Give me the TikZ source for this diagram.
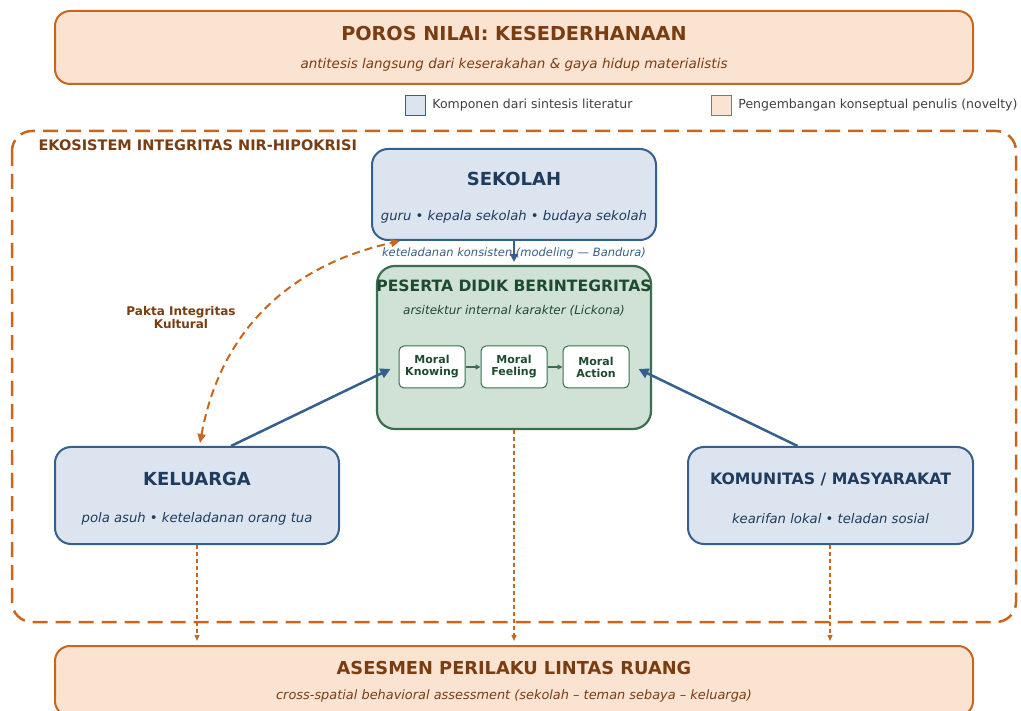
\documentclass[tikz,border=0pt]{standalone}
\usepackage{fontspec}
\setmainfont{DejaVu Sans}
\usepackage{xcolor}
\usetikzlibrary{calc,positioning,arrows.meta}
\definecolor{oranye}{HTML}{C8661E}
\definecolor{peach}{HTML}{FBE3D2}
\definecolor{coklat}{HTML}{7A3D12}
\definecolor{biru}{HTML}{355F8C}
\definecolor{birumuda}{HTML}{DCE5EF}
\definecolor{birutua}{HTML}{1F3B5E}
\definecolor{hijau}{HTML}{3A6E4F}
\definecolor{hijaumuda}{HTML}{D0E1D6}
\definecolor{hijautua}{HTML}{1E4A30}
\tikzset{
  novelbox/.style={draw=oranye, fill=peach, line width=2pt, rounded corners=15pt},
  litbox/.style={draw=biru, fill=birumuda, line width=2pt, rounded corners=16pt},
  pdbox/.style={draw=hijau, fill=hijaumuda, line width=2.2pt, rounded corners=18pt},
  moralbox/.style={draw=hijau, fill=white, line width=1pt, rounded corners=5pt,
    minimum width=66pt, minimum height=42pt, align=center, inner sep=0pt,
    font=\fontsize{11}{12}\selectfont\bfseries, text=hijautua},
  judul/.style={font=\fontsize{18}{20}\selectfont\bfseries},
  sub/.style={font=\fontsize{13.2}{15}\selectfont\itshape},
  panahbiru/.style={draw=biru, line width=2.5pt, -{Triangle[length=10pt,width=10pt]}},
  panahoranye/.style={draw=oranye, line width=1.3pt, dash pattern=on 4pt off 3pt,
    -{Triangle[length=6pt,width=5pt]}},
}

\begin{document}
\begin{tikzpicture}[x=1pt,y=-1pt]
\useasboundingbox (0,0) rectangle (1021,711);
% poros nilai
\node[novelbox, minimum width=918pt, minimum height=73pt] (poros) at (514,47.5) {};
\node[judul, text=coklat, font=\fontsize{19.2}{21}\selectfont\bfseries] at (514,34) {POROS NILAI: KESEDERHANAAN};
\node[sub, text=coklat, font=\fontsize{13.5}{15}\selectfont\itshape] at (514,64.5) {antitesis langsung dari keserakahan \& gaya hidup materialistis};
% legenda
\node[draw=biru, fill=birumuda, line width=1.5pt, minimum size=20pt, inner sep=0pt] (lg1) at (415.5,105.5) {};
\node[right=6pt of lg1, font=\fontsize{12.5}{14}\selectfont, text=black!75, inner sep=0pt] {Komponen dari sintesis literatur};
\node[draw=oranye, fill=peach, line width=1.5pt, minimum size=20pt, inner sep=0pt] (lg2) at (721.5,105.5) {};
\node[right=6pt of lg2, font=\fontsize{12.5}{14}\selectfont, text=black!75, inner sep=0pt] {Pengembangan konseptual penulis (novelty)};
% ekosistem
\draw[oranye, line width=2.5pt, dash pattern=on 15pt off 8pt, rounded corners=20pt] (12,131) rectangle (1016,622);
\node[anchor=west, font=\fontsize{14.5}{16}\selectfont\bfseries, text=coklat] (eko) at (35,145) {EKOSISTEM INTEGRITAS NIR-HIPOKRISI};
% sekolah
\node[litbox, minimum width=284pt, minimum height=91pt] (sek) at (514,194.5) {};
\node[judul, text=birutua] at (514,179) {SEKOLAH};
\node[sub, text=birutua] at (514,216.5) {guru • kepala sekolah • budaya sekolah};
% peserta didik
\node[pdbox, minimum width=274pt, minimum height=163pt] (pes) at (514,347.5) {};
\node[font=\fontsize{15.6}{17}\selectfont\bfseries, text=hijautua] at (514,286) {PESERTA DIDIK BERINTEGRITAS};
\node[font=\fontsize{12}{14}\selectfont\itshape, text=hijautua] at (514,311) {arsitektur internal karakter (Lickona)};
\node[moralbox] (mk) at (432,367) {Moral\\Knowing};
\node[moralbox] (mf) at (514,367) {Moral\\Feeling};
\node[moralbox] (ma) at (596,367) {Moral\\Action};
\draw[hijau, line width=1.2pt, -{Triangle[length=5pt,width=5pt]}] (mk) -- (mf);
\draw[hijau, line width=1.2pt, -{Triangle[length=5pt,width=5pt]}] (mf) -- (ma);
% keteladanan
\node[font=\fontsize{11.5}{13}\selectfont\itshape, text=biru] (ket) at (514,253) {keteladanan konsisten (modeling — Bandura)};
\draw[draw=biru, line width=2pt, -{Triangle[length=8pt,width=8pt]}] (sek.south) -- ($(pes.north)+(0,-3)$);
% keluarga & komunitas
\node[litbox, minimum width=284pt, minimum height=97pt] (kel) at (197,495.5) {};
\node[judul, text=birutua] at (197,479) {KELUARGA};
\node[sub, text=birutua] at (197,518.5) {pola asuh • keteladanan orang tua};
\node[litbox, minimum width=285pt, minimum height=97pt] (kom) at (830.5,495.5) {};
\node[font=\fontsize{15.7}{17}\selectfont\bfseries, text=birutua] at (830.5,479) {KOMUNITAS / MASYARAKAT};
\node[sub, text=birutua] at (830.5,518.5) {kearifan lokal • teladan sosial};
\draw[panahbiru] ($(kel.north)+(34,0)$) -- ($(mk.west)+(-8,2)$);
\draw[panahbiru] ($(kom.north)+(-33,0)$) -- ($(ma.east)+(9,2)$);
% pakta integritas
\coordinate (pk1) at (200,443);
\coordinate (pk2) at (400,241);
\draw[oranye, line width=2pt, dash pattern=on 8pt off 5pt,
  {Triangle[length=9pt,width=8pt]}-{Triangle[length=9pt,width=8pt]}]
  (pk1) .. controls (220,333) and (287,266) .. (pk2);
\node[align=center, font=\fontsize{12}{13}\selectfont\bfseries, text=coklat] (pakta) at (181,318) {Pakta Integritas\\Kultural};
% asesmen
\node[novelbox, minimum width=918pt, minimum height=70pt] (asm) at (514,681) {};
\node[judul, text=coklat, font=\fontsize{17.8}{20}\selectfont\bfseries] at (514,668) {ASESMEN PERILAKU LINTAS RUANG};
\node[font=\fontsize{12.9}{14}\selectfont\itshape, text=coklat] at (514,696) {cross-spatial behavioral assessment (sekolah – teman sebaya – keluarga)};
\draw[panahoranye, shorten >=4pt] (kel.south) -- (kel.south |- asm.north);
\draw[panahoranye, shorten >=4pt] (pes.south) -- (pes.south |- asm.north);
\draw[panahoranye, shorten >=4pt] ($(kom.south)+(-0.5,0)$) -- ($(kom.south |- asm.north)+(-0.5,0)$);
\end{tikzpicture}
\end{document}
